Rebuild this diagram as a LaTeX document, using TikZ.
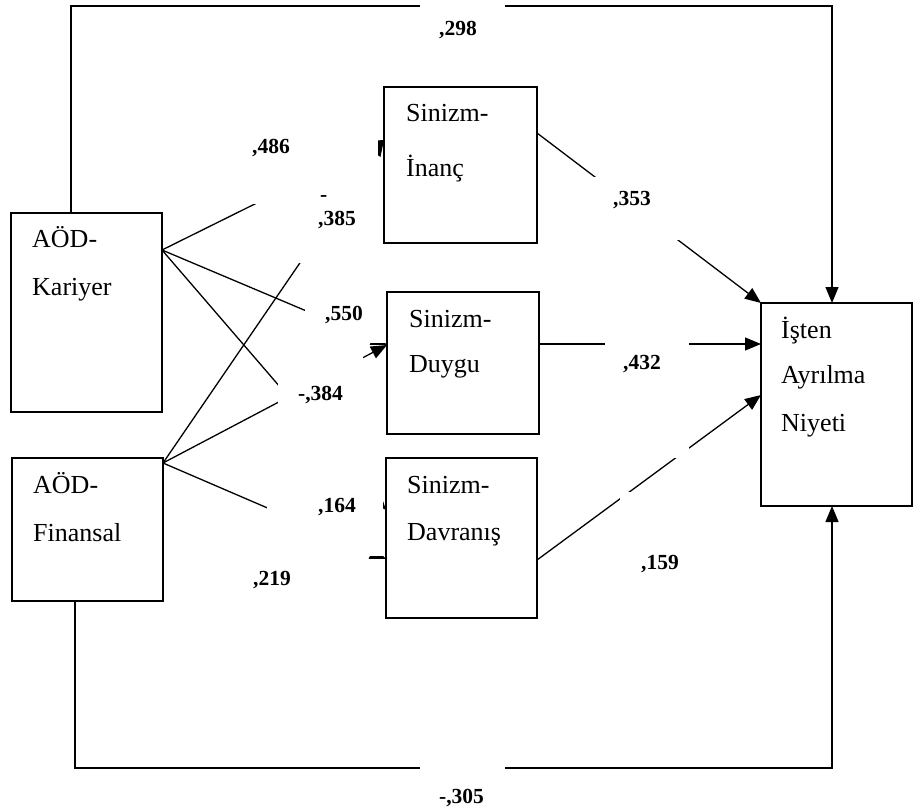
\documentclass[tikz,border=0pt]{standalone}
\usepackage{fontspec}
\setmainfont{Liberation Serif}
\usetikzlibrary{arrows.meta,calc}
\begin{document}
\begin{tikzpicture}[x=1pt,y=-1pt,
  box/.style={draw, line width=1.3pt, inner sep=0pt, outer sep=0pt, anchor=north west},
  txt/.style={anchor=base west, inner sep=0pt, font=\fontsize{26}{30}\selectfont},
  coef/.style={anchor=base west, inner sep=0pt, font=\fontsize{21.5}{25}\selectfont\bfseries},
  link/.style={line width=1.3pt, -{Triangle[length=16pt,width=13pt]}},
  hider/.style={fill=white, draw=none}]

\useasboundingbox (0,0) rectangle (915,810);
\fill[white] (0,0) rectangle (915,810);

% variables
\node[box, minimum width=151pt, minimum height=199pt] (kar) at (11,213) {};
\node[box, minimum width=151pt, minimum height=143pt] (fin) at (12,458) {};
\node[box, minimum width=153pt, minimum height=156pt] (inc) at (384,87) {};
\node[box, minimum width=152pt, minimum height=142pt] (duy) at (387,292) {};
\node[box, minimum width=151pt, minimum height=160pt] (dav) at (386,458) {};
\node[box, minimum width=151pt, minimum height=203pt] (ayr) at (761,303) {};

% ports on the box edges
\coordinate (kP)   at ($(kar.north east)+(0,37)$);
\coordinate (fP)   at ($(fin.north east)+(0,5)$);
\coordinate (incIn) at ($(inc.north west)+(0,53)$);
\coordinate (duyIn) at ($(duy.north west)+(0,53)$);
\coordinate (davInA) at ($(dav.north west)+(0,52)$);
\coordinate (davInB) at ($(dav.north west)+(0,101)$);
\coordinate (incOut) at ($(inc.north east)+(0,46)$);
\coordinate (duyOut) at ($(duy.north east)+(0,52)$);
\coordinate (davOut) at ($(dav.north east)+(0,102)$);
\coordinate (ayrA) at (ayr.north west);
\coordinate (ayrB) at ($(ayr.north west)+(0,41)$);
\coordinate (ayrC) at ($(ayr.north west)+(0,92)$);
\coordinate (kTop) at ($(kar.north west)+(60,0)$);
\coordinate (aTop) at ($(ayr.north west)+(71,0)$);
\coordinate (fBot) at ($(fin.south west)+(63,0)$);
\coordinate (aBot) at ($(ayr.south west)+(71,0)$);
\coordinate (topRail) at (0,6);
\coordinate (botRail) at (0,768);

% paths from the two predictors to the mediators
\draw[link] (kP) -- (incIn);
\draw[link] (fP) -- (incIn);
\draw[link] (kP) -- (duyIn);
\draw[link] (fP) -- (duyIn);
\draw[link] (kP) -- (davInA);
\draw[link] (fP) -- (davInB);

% paths from the mediators to the outcome
\draw[link] (incOut) -- (ayrA);
\draw[link] (duyOut) -- (ayrB);
\draw[link] (davOut) -- (ayrC);

% direct paths
\draw[link] (kTop) |- (topRail -| aTop) -- (aTop);
\draw[link] (fBot) |- (botRail -| aBot) -- (aBot);

% white text-box backgrounds of the coefficients
\fill[hider] (240,100) rectangle (378,204);
\fill[hider] (290,175) rectangle (378,263);
\fill[hider] (305,290) rectangle (386,343);
\fill[hider] (278,343) rectangle (363,420);
\fill[hider] (267,420) rectangle (383,556);
\fill[hider] (560,177) rectangle (700,240);
\fill[hider] (605,330) rectangle (689,458);
\fill[hider] (620,492) rectangle (700,590);
\fill[hider] (420,0) rectangle (505,45);
\fill[hider] (420,755) rectangle (505,810);

% box texts
\node[txt] (k1) at (32,248) {AÖD-};
\node[txt] (k2) at (32,295) {Kariyer};
\node[txt] (f1) at (33,493) {AÖD-};
\node[txt] (f2) at (33,541) {Finansal};
\node[txt] (i1) at (406,122) {Sinizm-};
\node[txt] (i2) at (406,177) {İnanç};
\node[txt] (d1) at (409,327) {Sinizm-};
\node[txt] (d2) at (409,372) {Duygu};
\node[txt] (v1) at (407,493) {Sinizm-};
\node[txt] (v2) at (407,540) {Davranış};
\node[txt] (a1) at (781,338) {İşten};
\node[txt] (a2) at (781,383) {Ayrılma};
\node[txt] (a3) at (781,431) {Niyeti};

% coefficients
\node[coef] (c298) at (439,36) {,298};
\node[coef] (c486) at (252,154) {,486};
\node[coef] (c385a) at (320,202) {-};
\node[coef] (c385b) at (318,226) {,385};
\node[coef] (c353) at (613,206) {,353};
\node[coef] (c550) at (325,320) {,550};
\node[coef] (c384) at (298,400) {-,384};
\node[coef] (c164) at (318,512) {,164};
\node[coef] (c219) at (253,585) {,219};
\node[coef] (c432) at (623,369) {,432};
\node[coef] (c159) at (641,569) {,159};
\node[coef] (c305) at (439,803) {-,305};
\end{tikzpicture}
\end{document}
